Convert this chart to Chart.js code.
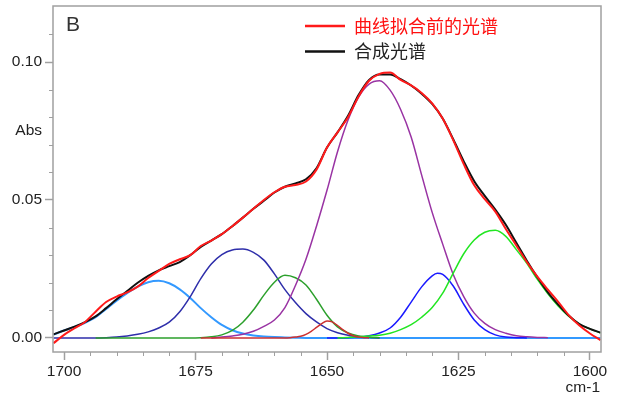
<!DOCTYPE html>
<html>
<head>
<meta charset="utf-8">
<script src="https://cdn.jsdelivr.net/npm/chart.js@4"></script>
<style>
  html, body { margin: 0; padding: 0; background: #fff; }
  #chart { display: block; }
</style>
</head>
<body>
<canvas id="chart" width="622" height="396"></canvas>
<script>
// FTIR amide I band, curve fitted (panel B)

const SERIES_NAMES = ["曲线拟合前的光谱", "合成光谱"];

// wavenumber grid for the full-width curves (cm-1)
const wn = [1702,1700,1698,1696,1694,1692,1690,1688,1686,1684,1682,1680,1678,1676,1674,1672,
            1670,1668,1666,1664,1662,1660,1658,1656,1654,1652,1650,1648,1646,1644,1642,1640,
            1638,1636,1634,1632,1630,1628,1626,1624,1622,1620,1618,1616,1614,1612,1610,1608,
            1606,1604,1602,1600,1598];

// measured spectrum before fitting (red)
const measured = [-0.0019,0.0011,0.0035,0.0058,0.0095,0.0130,0.0150,0.0165,0.0186,0.0217,0.0243,0.0268,
                  0.0285,0.0300,0.0333,0.0353,0.0376,0.0405,0.0436,0.0468,0.0500,0.0528,0.0548,0.0554,
                  0.0567,0.0610,0.0690,0.0745,0.0800,0.0875,0.0932,0.0957,0.0962,0.0935,0.0915,0.0888,
                  0.0850,0.0795,0.0717,0.0630,0.0553,0.0503,0.0458,0.0395,0.0335,0.0275,0.0222,0.0175,
                  0.0130,0.0082,0.0045,0.0016,-0.0008];

// synthetic (sum of bands, black)
const synthetic = [0.0013,0.0027,0.0041,0.0057,0.0078,0.0108,0.0140,0.0170,0.0200,0.0225,0.0245,0.0260,
                   0.0275,0.0300,0.0330,0.0353,0.0376,0.0405,0.0436,0.0468,0.0497,0.0527,0.0548,0.0560,
                   0.0575,0.0615,0.0690,0.0745,0.0805,0.0880,0.0935,0.0955,0.0955,0.0938,0.0915,0.0885,
                   0.0848,0.0795,0.0720,0.0640,0.0568,0.0515,0.0465,0.0410,0.0345,0.0280,0.0220,0.0165,
                   0.0120,0.0080,0.0050,0.0033,0.0019];

// band ~1683 (light blue), full width
const band1683 = [0.0012,0.0027,0.0040,0.0055,0.0075,0.0105,0.0135,0.0162,0.0186,0.0202,0.0207,0.0198,
                  0.0176,0.0145,0.0108,0.0075,0.0047,0.0028,0.0016,0.0009,0.0005,0.0003,0.0002,0.0001,
                  0,0,0,0,0,0,0,0,0,0,0,0,0,0,0,0,0,0,0,0,0,0,0,0,0,0,0,0,0];

// band ~1666 (navy)
const wn1666   = [1702,1700,1698,1696,1694,1692,1690,1688,1686,1684,1682,1680,1678,1676,1674,1672,
                  1670,1668,1666,1664,1662,1660,1658,1656,1654,1652,1650,1648,1646,1644,1642,1640];
const band1666 = [0,0,0,0,0,0.0001,0.0003,0.0007,0.0013,0.0022,0.0036,0.0057,0.0095,0.0150,0.0215,0.0268,
                  0.0302,0.0319,0.0322,0.0310,0.0282,0.0232,0.0175,0.0128,0.0088,0.0058,0.0034,0.0019,
                  0.0010,0.0005,0.0002,0];

// band ~1658 (green)
const wn1658   = [1694,1692,1690,1688,1686,1684,1682,1680,1678,1676,1674,1672,1670,1668,1666,1664,
                  1662,1660,1658,1656,1654,1652,1650,1648,1646,1644,1642,1640];
const band1658 = [0,0,0,0,0,0,0,0,0,0,0.0001,0.0004,0.0011,0.0027,0.0057,0.0101,
                  0.0155,0.0202,0.0227,0.0218,0.0192,0.0140,0.0082,0.0040,0.0018,0.0007,0.0002,0.0001];

// band ~1650 (dark red, small)
const wn1650   = [1674,1666,1658,1657,1656,1655,1654,1653,1652,1651,1650,1649,1648,1647,1646,1645,1644,1643,1642];
const band1650 = [0,0,0,0.0001,0.0003,0.0006,0.0013,0.0024,0.0038,0.0052,0.0061,0.0058,0.0045,0.0030,0.0017,0.0008,0.0003,0.0001,0];

// band ~1640 (purple)
const wn1640   = [1672,1670,1668,1666,1664,1662,1660,1658,1656,1654,1652,1650,1648,1646,1644,1642,
                  1640,1638,1636,1634,1632,1630,1628,1626,1624,1622,1620,1618,1616,1614,1612,1610,1608];
const band1640 = [0,0.0003,0.0007,0.0013,0.0024,0.0042,0.0065,0.0110,0.0190,0.0285,0.0405,0.0535,
                  0.0675,0.0790,0.0873,0.0920,0.0932,0.0898,0.0828,0.0728,0.0590,0.0455,0.0340,0.0230,
                  0.0150,0.0090,0.0053,0.0030,0.0017,0.0008,0.0004,0.0002,0.0001];

// band ~1629 (blue)
const wn1629   = [1650,1648,1646,1644,1642,1640,1638,1636,1634,1632,1630,1629,1628,1626,1624,1622,1620,1618,1616,1614,1612];
const band1629 = [0,0,0.0001,0.0003,0.0008,0.0018,0.0036,0.0075,0.0130,0.0185,0.0225,0.0234,0.0230,0.0188,
                  0.0122,0.0065,0.0030,0.0011,0.0003,0.0001,0];

// band ~1619 (bright green)
const wn1619   = [1648,1646,1644,1642,1640,1638,1636,1634,1632,1630,1628,1626,1624,1622,1620,1618,
                  1616,1614,1612,1610,1608,1606,1604,1602,1600,1598];
const band1619 = [0,0.0002,0.0004,0.0007,0.0010,0.0017,0.0030,0.0048,0.0075,0.0110,0.0162,0.0235,0.0305,
                  0.0355,0.0383,0.0390,0.0368,0.0320,0.0270,0.0212,0.0160,0.0115,0.0078,0.0050,0.0033,0.0018];

const xTickVals   = [1700, 1675, 1650, 1625, 1600];
const yTickVals   = [0, 0.05, 0.10];
const yTickLabels = ["0.00", "0.05", "0.10"];

const X_MIN = 1597.9, X_MAX = 1702.1;
const Y_MIN = -0.0051, Y_MAX = 0.1203;
const ABS_POS = 0.075;         // where the "Abs" label sits on the y axis
const FRAME = "#a0a0a0";
const FONT = "'Liberation Sans', Arial, sans-serif";
const CJK  = "'Noto Sans CJK SC', 'Noto Sans', sans-serif";


function pts(xs, ys) {
  return xs.map((x, i) => ({ x, y: ys[i] }));
}

function curve(label, xs, ys, color, width) {
  return {
    label, data: pts(xs, ys),
    borderColor: color, backgroundColor: color,
    borderWidth: width, pointRadius: 0, fill: false,
    cubicInterpolationMode: "monotone",
  };
}

// frame, minor ticks, panel letter, unit and legend
const decorations = {
  id: "decorations",
  afterDraw(chart) {
    const { ctx, chartArea: a, scales } = chart;
    ctx.save();

    ctx.strokeStyle = FRAME;
    ctx.lineWidth = 1.5;
    ctx.strokeRect(a.left, a.top, a.right - a.left, a.bottom - a.top);

    // minor ticks
    ctx.lineWidth = 1;
    ctx.beginPath();
    for (let v = 1600; v <= 1700; v += 5) {
      if (v % 25 === 0) continue;
      const px = Math.round(scales.x.getPixelForValue(v)) + 0.5;
      ctx.moveTo(px, a.bottom); ctx.lineTo(px, a.bottom + 4);
    }
    for (let k = 1; k <= 11; k++) {
      if (k % 5 === 0) continue;
      const py = Math.round(scales.y.getPixelForValue(k / 100)) + 0.5;
      ctx.moveTo(a.left - 4, py); ctx.lineTo(a.left, py);
    }
    ctx.stroke();

    ctx.textBaseline = "middle";
    ctx.fillStyle = "#333";
    ctx.font = "21px " + FONT;
    ctx.textAlign = "left";
    ctx.fillText("B", 66, 25);

    ctx.fillStyle = "#222";
    ctx.font = "15.5px " + FONT;
    ctx.textAlign = "right";
    ctx.fillText("cm-1", 600, 388);

    // legend
    ctx.textAlign = "left";
    const ds = chart.data.datasets;
    const rows = [[0, 26], [1, 51.5]];
    rows.forEach(([i, y]) => {
      ctx.strokeStyle = ds[i].borderColor;
      ctx.lineWidth = 2.5;
      ctx.beginPath();
      ctx.moveTo(305, y); ctx.lineTo(345, y);
      ctx.stroke();
      ctx.fillStyle = i === 0 ? "#ff1010" : "#222";
      ctx.font = "18px " + CJK;
      ctx.fillText(ds[i].label, 354, y);
    });

    ctx.restore();
  },
};

new Chart(document.getElementById("chart"), {
  type: "line",
  data: {
    datasets: [
      curve(SERIES_NAMES[0], wn, measured, "#ff1a1a", 2),
      curve(SERIES_NAMES[1], wn, synthetic, "#111111", 2),
      curve("1650", wn1650, band1650, "#cc3030", 1.5),
      curve("1619", wn1619, band1619, "#22e622", 1.5),
      curve("1629", wn1629, band1629, "#1a1aff", 1.5),
      curve("1640", wn1640, band1640, "#9933a3", 1.5),
      curve("1658", wn1658, band1658, "#2ca02c", 1.5),
      curve("1666", wn1666, band1666, "#2e2eaa", 1.5),
      curve("1683", wn, band1683, "#3399ff", 2),
    ],
  },
  options: {
    responsive: false,
    animation: false,
    devicePixelRatio: 1,
    layout: { padding: { top: 6, right: 21, left: 0, bottom: 0 } },
    plugins: { legend: { display: false }, tooltip: { enabled: false } },
    scales: {
      x: {
        type: "linear", reverse: true, min: X_MIN, max: X_MAX,
        afterBuildTicks: s => { s.ticks = xTickVals.map(v => ({ value: v })); },
        afterFit: s => { s.height = 44; s.paddingLeft = 0; s.paddingRight = 0; },
        border: { display: false },
        grid: { drawOnChartArea: false, tickLength: 8, tickColor: FRAME, tickWidth: 1.5 },
        ticks: {
          color: "#222", font: { family: FONT, size: 15.5 }, padding: 2,
          maxRotation: 0, autoSkip: false,
          callback: v => String(v),
        },
      },
      y: {
        min: Y_MIN, max: Y_MAX,
        afterBuildTicks: s => { s.ticks = yTickVals.concat([ABS_POS]).map(v => ({ value: v })); },
        afterFit: s => { s.width = 53; s.paddingTop = 0; s.paddingBottom = 0; },
        border: { display: false },
        grid: {
          drawOnChartArea: false, tickLength: 8, tickWidth: 1.5,
          tickColor: c => (c.tick && c.tick.value === ABS_POS ? "rgba(0,0,0,0)" : FRAME),
        },
        ticks: {
          color: "#222", font: { family: FONT, size: 15.5 }, padding: 3,
          callback: v => {
            const i = yTickVals.indexOf(v);
            return i >= 0 ? yTickLabels[i] : "Abs";
          },
        },
      },
    },
  },
  plugins: [decorations],
});
</script>
</body>
</html>
